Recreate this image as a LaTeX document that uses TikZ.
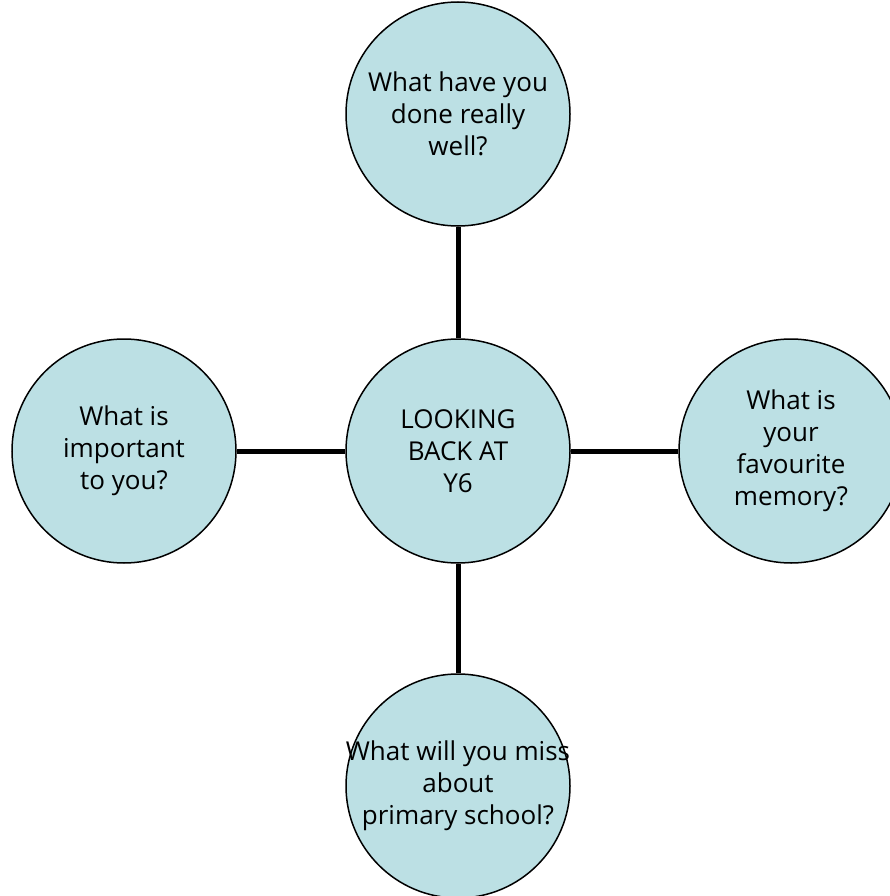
\documentclass[tikz,border=0pt]{standalone}
\usepackage{fontspec}
\setmainfont{Open Sans}
\usepackage{tikz}
\usetikzlibrary{positioning}
\definecolor{bubblefill}{RGB}{188,224,228}
\tikzstyle{link} = [line width=5pt, black]

\begin{document}
\begin{tikzpicture}[x=1pt,y=-1pt]
\tikzset{bubble/.style={circle,draw=black,line width=1.5pt,fill=bubblefill,minimum size=224pt,inner sep=0pt,align=center,font=\fontsize{26}{32}\selectfont}}
\useasboundingbox (0,0) rectangle (890,896);
\node[bubble] (centre) at (458,451) {LOOKING\\BACK AT\\Y6};
\node[bubble] (top) at (458,114) {What have you\\done really\\well?};
\node[bubble] (left) at (124,451) {What is\\important\\to you?};
\node[bubble] (right) at (791,451) {What is\\your\\favourite\\memory?};
% text runs past the circle here, as in the original
\node[bubble,inner sep=-20pt] (bottom) at (458,786) {What will you miss\\about\\primary school?};

\draw[link] (centre) -- (top);
\draw[link] (centre) -- (left);
\draw[link] (centre) -- (right);
\draw[link] (centre) -- (bottom);
\end{tikzpicture}
\end{document}
